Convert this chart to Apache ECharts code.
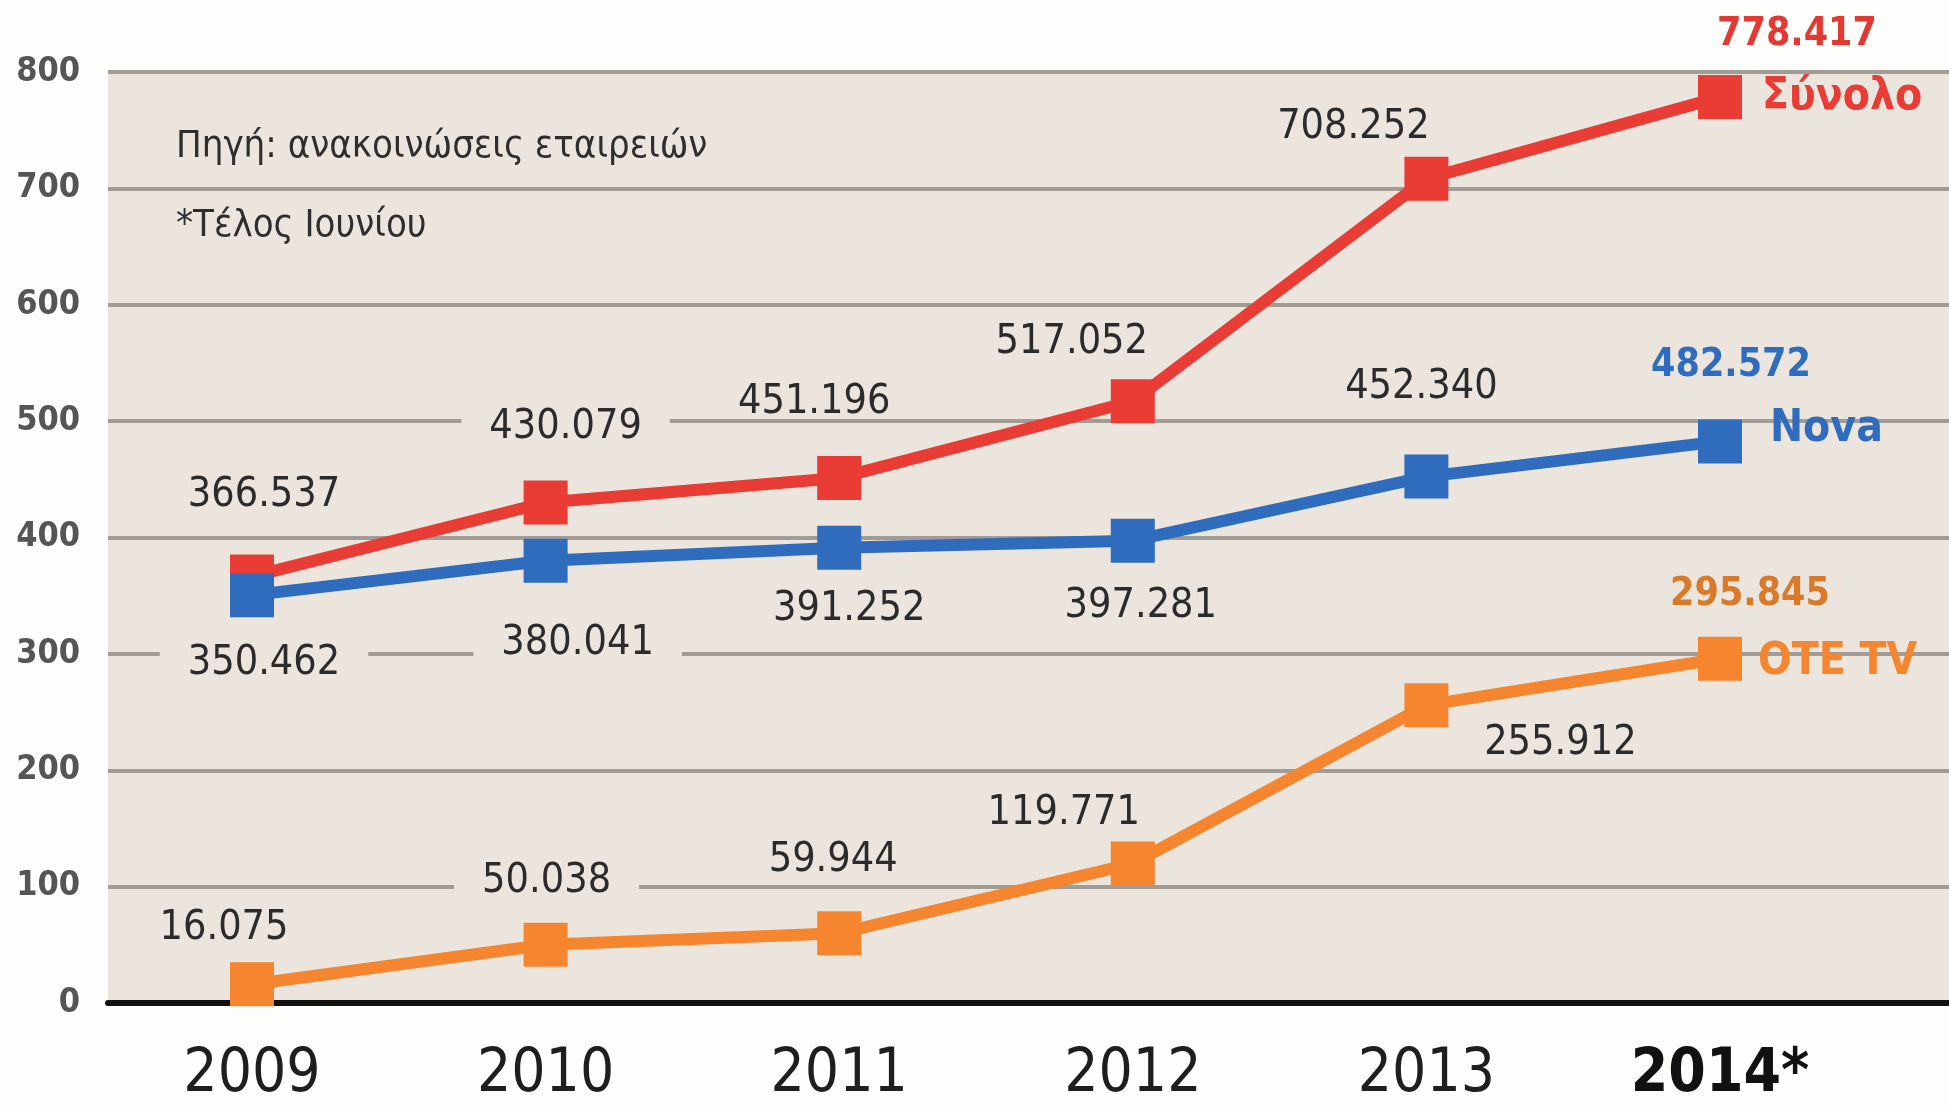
<!DOCTYPE html>
<html>
<head>
<meta charset="utf-8">
<script src="https://cdn.jsdelivr.net/npm/echarts@6/dist/echarts.min.js"></script>
<style>
html,body{margin:0;padding:0;background:#fdfdfb;}
#chart{width:1949px;height:1105px;}
</style>
</head>
<body>
<div id="chart"></div>
<script>
// ---- data ----
const years = [2009, 2010, 2011, 2012, 2013, 2014];
const yearLabels = ['2009', '2010', '2011', '2012', '2013', '2014*'];
const seriesNames = ['Σύνολο', 'Nova', 'OTE TV'];
const totalValues = [366.537, 430.079, 451.196, 517.052, 708.252, 778.417];
const novaValues = [350.462, 380.041, 391.252, 397.281, 452.340, 482.572];
const oteValues = [16.075, 50.038, 59.944, 119.771, 255.912, 295.845];
const yTicks = [0, 100, 200, 300, 400, 500, 600, 700, 800];
const sourceNote = 'Πηγή: ανακοινώσεις εταιρειών';
const footNote = '*Τέλος Ιουνίου';

// ---- layout / style ----
const FONT = "'DejaVu Sans Condensed','Liberation Sans Narrow','Arial Narrow',sans-serif";
const BEIGE = '#ebe5de';
const colors = ['#e83c35', '#2f6cbd', '#f5852e'];
const valueColors = ['#e23a33', '#2e6cc0', '#d97a2a'];
const labelOffsets = [
  [[12, -81], [20, -75], [-25, -76], [-61, -59], [-73, -51], [77, -62]],
  [[12, 68], [32, 83], [10, 62], [8, 66], [-5, -89], [11, -76]],
  [[-28, -56], [1, -63], [-6, -73], [-69, -50], [134, 38], [30, -64]]
];
const endOffsets = [[0, 0], [8, -12], [-4, 4]];
const XMIN = 2008.5095, XMAX = 2014.78;

function fmt(v) { return v.toFixed(3); }

const valueSets = [totalValues, novaValues, oteValues];

const series = valueSets.map((vals, s) => ({
  name: seriesNames[s],
  type: 'line',
  symbol: 'rect',
  symbolSize: 44,
  z: 3 + s,
  lineStyle: { width: 12, color: colors[s] },
  itemStyle: { color: colors[s] },
  label: {
    show: true,
    position: 'inside',
    fontFamily: FONT,
    fontSize: 41,
    lineHeight: 34,
    color: '#2b2b2b',
    backgroundColor: BEIGE,
    padding: [0, 28],
    formatter: p => fmt(p.value[1])
  },
  endLabel: {
    show: true,
    formatter: '{a}',
    fontFamily: FONT,
    fontSize: 44,
    fontWeight: 'bold',
    color: colors[s],
    distance: 42,
    offset: endOffsets[s]
  },
  data: vals.map((v, i) => {
    const last = i === vals.length - 1;
    const item = { value: [years[i], v], label: { offset: labelOffsets[s][i] } };
    if (last) {
      item.label.fontWeight = 'bold';
      item.label.fontSize = 39;
      item.label.color = valueColors[s];
      item.label.backgroundColor = 'transparent';
    }
    return item;
  })
}));

const chart = echarts.init(document.getElementById('chart'), null, { renderer: 'canvas' });
chart.setOption({
  animation: false,
  backgroundColor: '#fdfdfb',
  grid: {
    show: true,
    left: 108, right: 0, top: 72, bottom: 98,
    backgroundColor: BEIGE,
    borderWidth: 0
  },
  xAxis: {
    type: 'value',
    min: XMIN,
    max: XMAX,
    splitLine: { show: false },
    axisTick: { show: false },
    axisLine: { show: true, lineStyle: { color: '#111', width: 6 } },
    axisLabel: {
      customValues: years,
      margin: 42,
      fontFamily: FONT,
      fontSize: 60,
      color: '#1e1e1e',
      formatter: v => {
        const i = years.indexOf(Math.round(v));
        const t = yearLabels[i];
        return i === years.length - 1 ? '{b|' + t + '}' : t;
      },
      rich: { b: { fontFamily: FONT, fontSize: 60, fontWeight: 'bold', color: '#111' } }
    }
  },
  yAxis: {
    type: 'value',
    min: yTicks[0],
    max: yTicks[yTicks.length - 1],
    interval: yTicks[1] - yTicks[0],
    axisLine: { show: false },
    axisTick: { show: false },
    splitLine: { show: true, lineStyle: { color: '#a19c96', width: 4 } },
    axisLabel: { margin: 28, fontFamily: FONT, fontSize: 34, fontWeight: 'bold', color: '#555' }
  },
  graphic: [
    { type: 'text', left: 176, top: 128, style: { text: sourceNote, fontFamily: FONT, fontSize: 38, fill: '#2e2e2e' } },
    { type: 'text', left: 176, top: 207, style: { text: footNote, fontFamily: FONT, fontSize: 38, fill: '#2e2e2e' } }
  ],
  series: series
});
</script>
</body>
</html>
